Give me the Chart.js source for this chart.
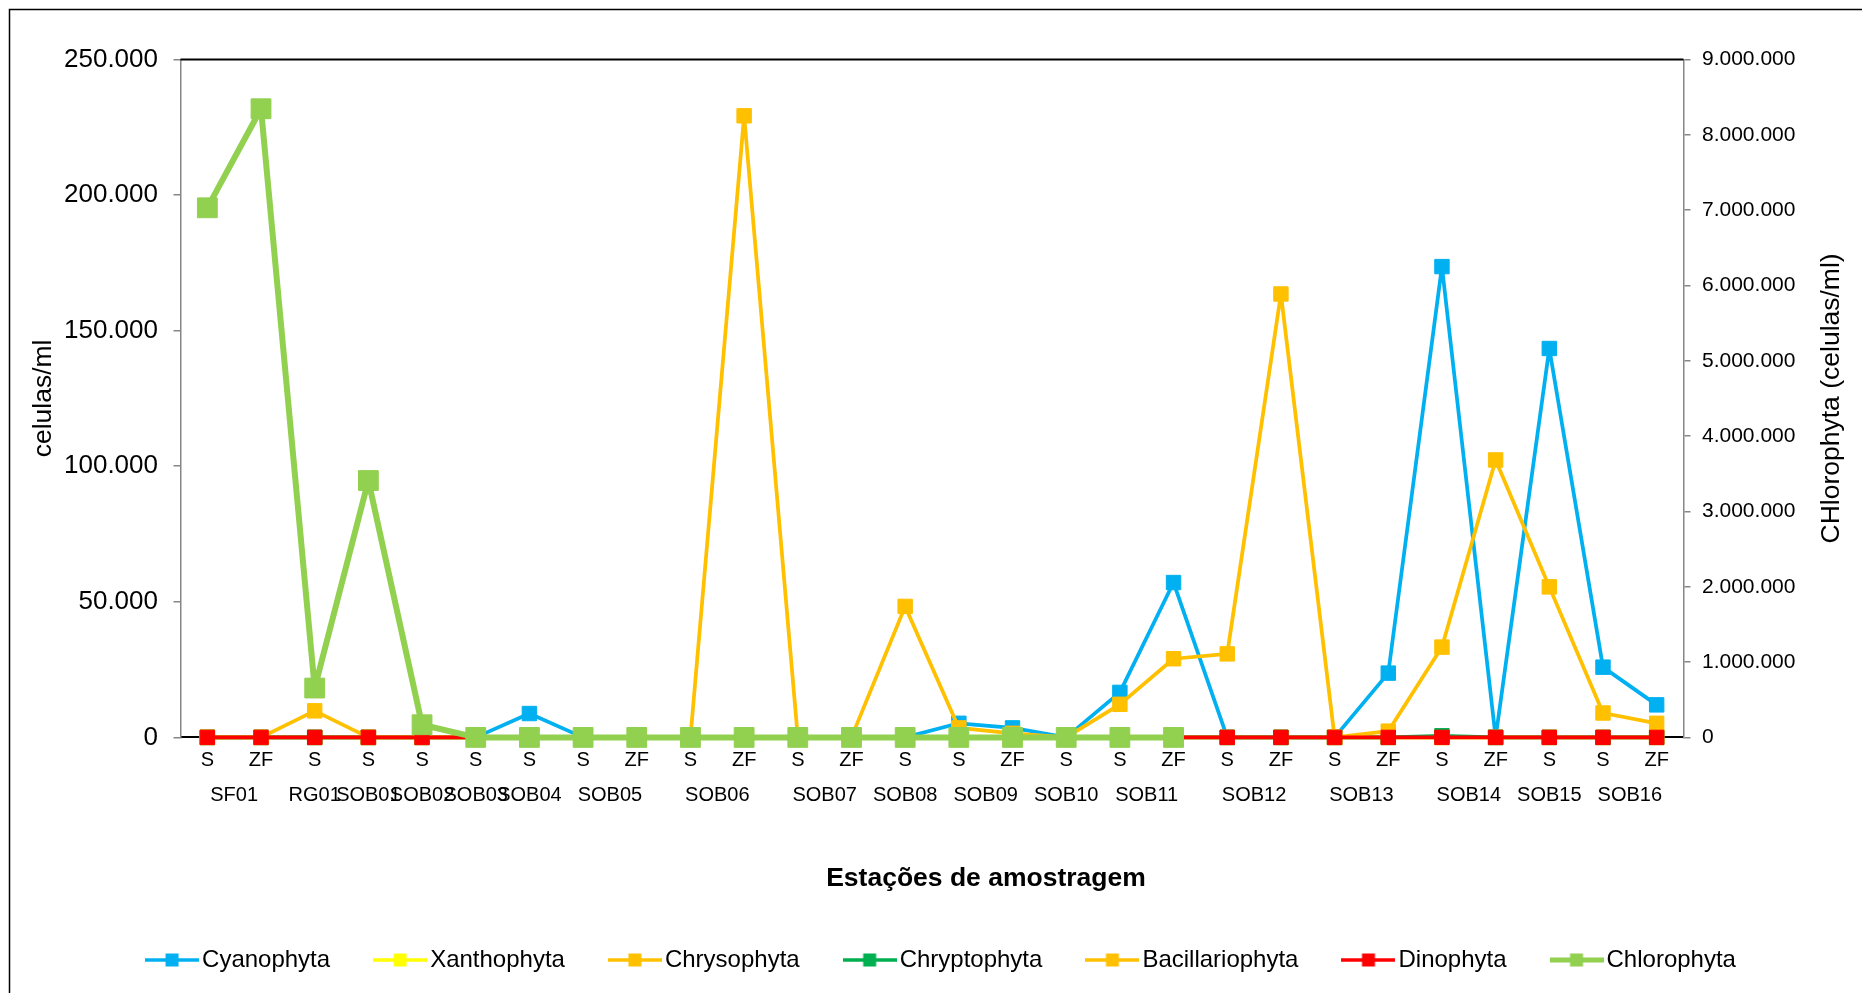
<!DOCTYPE html>
<html>
<head>
<meta charset="utf-8">
<script src="https://cdn.jsdelivr.net/npm/chart.js@4.4.1/dist/chart.umd.min.js"></script>
<style>
  html, body { margin: 0; padding: 0; background: #fff; }
  #wrap { width: 1862px; height: 993px; }
</style>
</head>
<body>
<div id="wrap"><canvas id="myChart" width="1862" height="993"></canvas></div>
<script>
// sample type per point and the station it belongs to
const sampleTypes = ['S','ZF','S','S','S','S','S','S','ZF','S','ZF','S','ZF','S',
                     'S','ZF','S','S','ZF','S','ZF','S','ZF','S','ZF','S','S','ZF']
const stations = ['SF01','SF01','RG01','SOB01','SOB02','SOB03','SOB04','SOB05','SOB05','SOB06','SOB06','SOB07','SOB07','SOB08',
                  'SOB09','SOB09','SOB10','SOB11','SOB11','SOB12','SOB12','SOB13','SOB13','SOB14','SOB14','SOB15','SOB16','SOB16']

// celulas/ml (left axis)
const cyanophyta = [0, 0, 0, 0, 0, 0, 8800, 0, 0, 0, 0, 0, 0, 0,
                    5200, 3500, 0, 16600, 57100, 0, 0, 0, 23700, 173600, 0, 143400, 25900, 12000]
const xanthophyta = [0, 0, 0, 0, 0, 0, 0, 0, 0, 0, 0, 0, 0, 0,
                     0, 0, 0, 0, 0, 0, 0, 0, 0, 0, 0, 0, 0, 0]
const chrysophyta = [0, 0, 0, 0, 0, 0, 0, 0, 0, 0, 0, 0, 0, 0,
                     0, 0, 0, 0, 0, 0, 0, 0, 0, 0, 0, 0, 0, 0]
const cryptophyta = [0, 0, 0, 0, 0, 0, 0, 0, 0, 0, 0, 0, 0, 0,
                     0, 0, 0, 0, 0, 0, 0, 0, 0, 600, 0, 0, 0, 0]
const bacillariophyta = [0, 0, 9800, 0, 0, 0, 0, 0, 0, 0, 229200, 0, 0, 48300,
                         3500, 1500, 0, 12200, 29000, 30800, 163500, 0, 2300, 33300, 102300, 55500, 9000, 5200]
const dinophyta = [0, 0, 0, 0, 0, 0, 0, 0, 0, 0, 0, 0, 0, 0,
                   0, 0, 0, 0, 0, 0, 0, 0, 0, 0, 0, 0, 0, 0]
// celulas/ml (right axis)
const chlorophyta = [7030000, 8345000, 655000, 3410000, 168000, 0, 0, 0, 0, 0, 0, 0, 0, 0,
                     0, 0, 0, 0, 0, null, null, null, null, null, null, null, null, null]

const seriesNames = ['Cyanophyta', 'Xanthophyta', 'Chrysophyta', 'Chryptophyta', 'Bacillariophyta', 'Dinophyta', 'Chlorophyta']
const seriesValues = [cyanophyta, xanthophyta, chrysophyta, cryptophyta, bacillariophyta, dinophyta, chlorophyta]
const seriesColors = ['#00B0F0', '#FFFF00', '#FFC000', '#00B050', '#FFC000', '#FF0000', '#92D050']

const leftTicks = [0, 50000, 100000, 150000, 200000, 250000]
const rightTicks = [0, 1000000, 2000000, 3000000, 4000000, 5000000, 6000000, 7000000, 8000000, 9000000]

// one group label centred under the points of each station
const groupNames = stations.filter((s, i) => stations.indexOf(s) === i)
const groupCenters = groupNames.map(g => (stations.indexOf(g) + stations.lastIndexOf(g)) / 2)

function fmt(v){
    return String(v).replace(/\B(?=(\d{3})+(?!\d))/g, '.')
}

function legendIcon(color, lineW, sq){
    const c = document.createElement('canvas')
    c.width = 54
    c.height = 18
    const g = c.getContext('2d')
    g.strokeStyle = color
    g.lineWidth = lineW
    g.beginPath()
    g.moveTo(0, 9)
    g.lineTo(54, 9)
    g.stroke()
    g.fillStyle = color
    g.fillRect(27 - sq / 2, 9 - sq / 2, sq, sq)
    return c
}

const fontFamily = "'Liberation Sans', Arial, sans-serif"
Chart.defaults.font.family = fontFamily
Chart.defaults.color = '#000'

const datasets = seriesNames.map((name, i) => {
    const chloro = name === 'Chlorophyta'
    return {
        label: name,
        data: seriesValues[i],
        xAxisID: 'x',
        yAxisID: chloro ? 'y2' : 'y',
        borderColor: seriesColors[i],
        backgroundColor: seriesColors[i],
        borderWidth: chloro ? 6 : 3.75,
        borderJoinStyle: 'round',
        borderCapStyle: 'round',
        pointStyle: 'rect',
        pointRadius: chloro ? 14 : 10.2,
        pointBorderWidth: 1,
        pointBorderColor: seriesColors[i],
        pointBackgroundColor: seriesColors[i],
        tension: 0,
        clip: false,
        order: seriesNames.length - 1 - i
    }
})

const legendIcons = seriesNames.map((name, i) =>
    legendIcon(seriesColors[i], name === 'Chlorophyta' ? 5 : 3.5, 13))

const axisGray = '#868686'

// frame: top edge of the plot and the outer border
const frame = {
    id: 'frame',
    afterDraw(chart){
        const {ctx, chartArea} = chart
        ctx.save()
        ctx.strokeStyle = '#000'
        ctx.lineWidth = 2
        ctx.beginPath()
        ctx.moveTo(chartArea.left, chartArea.top)
        ctx.lineTo(chartArea.right, chartArea.top)
        ctx.stroke()
        ctx.lineWidth = 1.5
        ctx.strokeRect(9.5, 9.5, 1900, 1100)
        ctx.restore()
    }
}

// axis titles placed as in the original: x title off-centre, right title reads bottom-to-top
const titles = {
    id: 'titles',
    afterDraw(chart){
        const {ctx, chartArea} = chart
        const s = chart.scales.y2
        ctx.save()
        ctx.fillStyle = '#000'
        ctx.textAlign = 'center'
        ctx.textBaseline = 'middle'
        ctx.font = 'bold 26.5px ' + fontFamily
        ctx.fillText('Estações de amostragem', 986, 879)
        ctx.translate(s.right - 30, (chartArea.top + chartArea.bottom) / 2)
        ctx.rotate(-Math.PI / 2)
        ctx.font = '26.5px ' + fontFamily
        ctx.fillText('CHlorophyta (celulas/ml)', 0, 0)
        ctx.restore()
    }
}

new Chart(document.getElementById('myChart'), {
    type: 'line',
    data: { labels: sampleTypes, datasets: datasets },
    plugins: [frame, titles],
    options: {
        responsive: false,
        animation: false,
        events: [],
        layout: { padding: { top: 59.4, left: 28, right: 0, bottom: 11 } },
        plugins: {
            tooltip: { enabled: false },
            legend: {
                position: 'bottom',
                align: 'center',
                labels: {
                    usePointStyle: true,
                    pointStyleWidth: 36,
                    padding: 52,
                    font: { size: 24 },
                    color: '#000',
                    sort: (a, b) => a.datasetIndex - b.datasetIndex,
                    generateLabels: chart => Chart.defaults.plugins.legend.labels.generateLabels(chart).map(item => {
                        item.pointStyle = legendIcons[item.datasetIndex]
                        return item
                    })
                }
            }
        },
        scales: {
            x: {
                type: 'category',
                position: 'bottom',
                offset: true,
                weight: 0,
                grid: { display: false, drawTicks: false },
                border: { display: true, color: '#000', width: 2 },
                ticks: { autoSkip: false, maxRotation: 0, minRotation: 0, padding: 11, font: { size: 20 } },
                afterFit: s => { s.height = 42 }
            },
            xGroup: {
                type: 'linear',
                position: 'bottom',
                weight: 1,
                min: -0.5,
                max: sampleTypes.length - 0.5,
                bounds: 'data',
                offset: false,
                grid: { display: false, drawTicks: false },
                border: { display: false },
                afterBuildTicks: s => { s.ticks = groupCenters.map(v => ({ value: v })) },
                ticks: {
                    autoSkip: false, maxRotation: 0, minRotation: 0, padding: 4, font: { size: 20 },
                    callback: (v, i) => groupNames[i]
                },
                afterFit: s => { s.height = 116.6 }
            },
            y: {
                type: 'linear',
                position: 'left',
                min: leftTicks[0],
                max: leftTicks[leftTicks.length - 1],
                afterBuildTicks: s => { s.ticks = leftTicks.map(v => ({ value: v })) },
                ticks: { padding: 15.5, font: { size: 26 }, callback: v => fmt(v) },
                grid: { drawOnChartArea: false, drawTicks: true, tickLength: 7, color: axisGray, lineWidth: 1.5 },
                border: { color: axisGray, width: 1.5 },
                title: { display: true, text: 'celulas/ml', font: { size: 26.5 }, padding: { top: 0, bottom: 0 } },
                afterFit: s => { s.width = 152.5 }
            },
            y2: {
                type: 'linear',
                position: 'right',
                min: rightTicks[0],
                max: rightTicks[rightTicks.length - 1],
                afterBuildTicks: s => { s.ticks = rightTicks.map(v => ({ value: v })) },
                ticks: { padding: 11.5, font: { size: 21 }, callback: v => fmt(v) },
                grid: { drawOnChartArea: false, drawTicks: true, tickLength: 7, color: axisGray, lineWidth: 1.5 },
                border: { color: axisGray, width: 1.5 },
                afterFit: s => { s.width = 178.5 }
            }
        }
    }
})
</script>
</body>
</html>
